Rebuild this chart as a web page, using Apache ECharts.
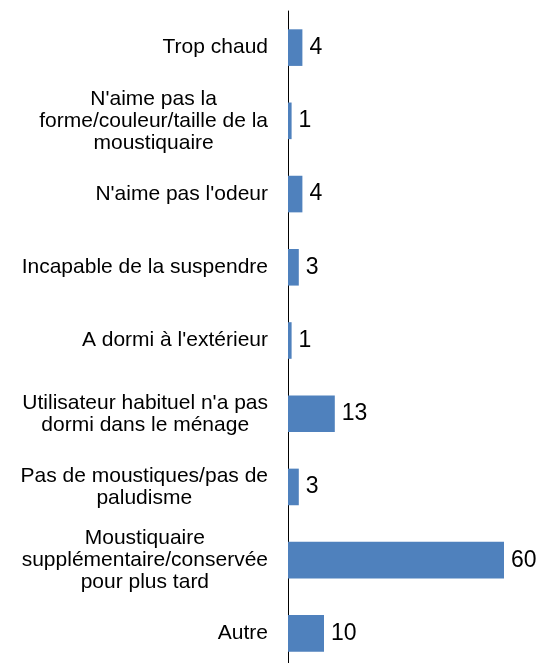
<!DOCTYPE html>
<html>
<head>
<meta charset="utf-8">
<script src="https://cdn.jsdelivr.net/npm/echarts@6/dist/echarts.min.js"></script>
<style>
  html, body { margin: 0; padding: 0; background: #fff; }
  #chart { width: 539px; height: 663px; }
</style>
</head>
<body>
<div id="chart"></div>
<script>
// Reasons the mosquito net was not used (percent)
const categories = [
  "Trop chaud",
  "N'aime pas la\nforme/couleur/taille de la\nmoustiquaire",
  "N'aime pas l'odeur",
  "Incapable de la suspendre",
  "A dormi à l'extérieur",
  "Utilisateur habituel n'a pas\ndormi dans le ménage",
  "Pas de moustiques/pas de\npaludisme",
  "Moustiquaire\nsupplémentaire/conservée\npour plus tard",
  "Autre"
];
const values = [4, 1, 4, 3, 1, 13, 3, 60, 10];

const chart = echarts.init(document.getElementById('chart'), null, { renderer: 'canvas' });

const FONT = 'Liberation Sans, Arial, sans-serif';

chart.setOption({
  animation: false,
  backgroundColor: '#ffffff',
  // plot area runs slightly past the bottom edge of the canvas
  grid: {
    left: 288, width: 216, top: 11, height: 659,
    containLabel: false,
    outerBoundsMode: 'none'
  },
  xAxis: {
    type: 'value',
    min: 0,
    max: 60,
    show: false
  },
  yAxis: {
    type: 'category',
    inverse: true,
    data: categories,
    axisLine: { show: true, lineStyle: { color: '#000000', width: 1 } },
    axisTick: { show: false },
    splitLine: { show: false },
    axisLabel: {
      margin: 20,
      align: 'right',
      color: '#000000',
      fontFamily: FONT,
      fontSize: 21,
      lineHeight: 22,
      // each line centred within the label block
      formatter: function (v) {
        return v.split('\n').map(function (s) { return '{c|' + s + '}'; }).join('\n');
      },
      rich: {
        c: {
          align: 'center',
          color: '#000000',
          fontFamily: FONT,
          fontSize: 21,
          lineHeight: 22
        }
      }
    }
  },
  series: [{
    type: 'bar',
    data: values,
    barCategoryGap: '50%',
    itemStyle: { color: '#4f81bd' },
    label: {
      show: true,
      position: 'right',
      distance: 7,
      color: '#000000',
      fontFamily: FONT,
      fontSize: 23
    }
  }]
});
</script>
</body>
</html>
